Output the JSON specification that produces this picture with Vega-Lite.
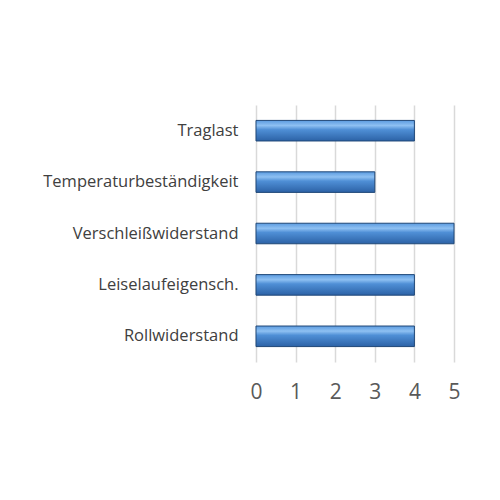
{
  "$schema": "https://vega.github.io/schema/vega-lite/v6.json",
  "autosize": "none",
  "padding": {"left": 256, "top": 105, "right": 46, "bottom": 138},
  "width": 198,
  "height": 257,
  "background": "white",
  "data": {
    "values": [
      {"kriterium": "Traglast", "wert": 4},
      {"kriterium": "Temperaturbeständigkeit", "wert": 3},
      {"kriterium": "Verschleißwiderstand", "wert": 5},
      {"kriterium": "Leiselaufeigensch.", "wert": 4},
      {"kriterium": "Rollwiderstand", "wert": 4}
    ]
  },
  "mark": {
    "type": "bar",
    "color": {
      "gradient": "linear",
      "x1": 0, "y1": 0, "x2": 0, "y2": 1,
      "stops": [
        {"offset": 0, "color": "#5b9be0"},
        {"offset": 0.25, "color": "#8ec0f2"},
        {"offset": 0.45, "color": "#4f8fd6"},
        {"offset": 1, "color": "#2c62a6"}
      ]
    },
    "stroke": "#1f4777",
    "strokeWidth": 1
  },
  "encoding": {
    "y": {
      "field": "kriterium",
      "type": "nominal",
      "sort": null,
      "scale": {"paddingInner": 0.6, "paddingOuter": 0.3},
      "axis": {
        "title": null,
        "domain": false,
        "ticks": false,
        "labelFont": "Open Sans",
        "labelFontSize": 16.5,
        "labelColor": "#404040",
        "labelPadding": 18,
        "labelLimit": 300
      }
    },
    "x": {
      "field": "wert",
      "type": "quantitative",
      "scale": {"domain": [0, 5]},
      "axis": {
        "title": null,
        "values": [0, 1, 2, 3, 4, 5],
        "domain": false,
        "ticks": false,
        "grid": true,
        "gridColor": "#d9d9d9",
        "gridWidth": 1.5,
        "labelFlush": false,
        "labelFont": "Open Sans",
        "labelFontSize": 21,
        "labelColor": "#595959",
        "labelPadding": 19
      }
    }
  },
  "config": {"view": {"stroke": null}}
}
